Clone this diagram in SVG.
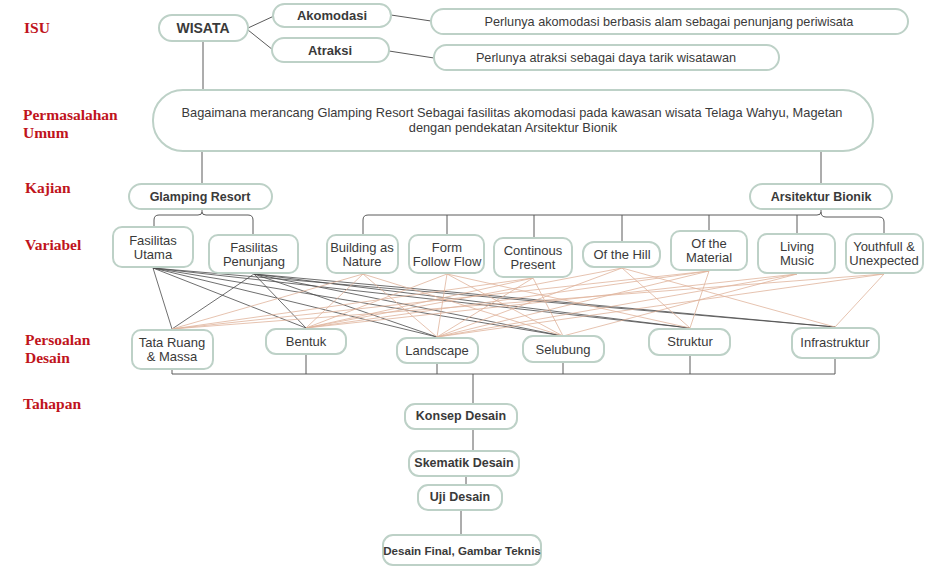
<svg xmlns="http://www.w3.org/2000/svg" width="933" height="571" viewBox="0 0 933 571">
<style>
.bg{fill:#ffffff}
.lbl{font-family:"Liberation Serif","Times New Roman",serif;font-weight:bold;font-size:15.5px;fill:#c0141c}
.n rect{fill:#ffffff;stroke:#bdd1c7;stroke-width:2}
.t{font-family:"Liberation Sans",Arial,sans-serif;font-size:12.5px;fill:#3a3a3a;text-anchor:middle;dominant-baseline:central}
.b{font-weight:bold}
.c{fill:none;stroke:#5a5a5a;stroke-width:1}
.dk{stroke:#4a4a4a;stroke-width:0.8;fill:none}
.or{stroke:#e0b49c;stroke-width:0.8;fill:none}
</style>
<rect class="bg" x="0" y="0" width="933" height="571"/>

<g id="labels">
<text class="lbl" x="24" y="33">ISU</text>
<text class="lbl" x="23" y="120">Permasalahan</text>
<text class="lbl" x="23" y="138">Umum</text>
<text class="lbl" x="25" y="193">Kajian</text>
<text class="lbl" x="25" y="250">Variabel</text>
<text class="lbl" x="25" y="345">Persoalan</text>
<text class="lbl" x="25" y="363">Desain</text>
<text class="lbl" x="23" y="409">Tahapan</text>
</g>

<g id="connectors">
<path class="c" d="M248,28 L274,16 M248,30 L273,50 M391,15 L431,21 M389,51 L434,58"/>
<path class="c" d="M203,41 V90"/>
<path class="c" d="M202,151 V184 M821,151 V185"/>
<path class="c" d="M202,209 V212 Q202,215 198,215 H159 Q154,215 154,220 V227 M202,212 Q202,215 206,215 H248 Q253,215 253,220 V235"/>
<path class="c" d="M821,209 V212 Q821,215 817,215 H368 Q363,215 363,220 V235 M821,212 Q821,217 826,217 H879 Q884,217 884,222 V234 M447,215 V235 M534,215 V238 M622,215 V242 M709,215 V231 M797,215 V234"/>
<path class="c" d="M172,369 V374 M306,354 V374 M437,363 V374 M563,362 V374 M690,355 V374 M835,358 V374 M172,374 H835 M473,374 V404"/>
<path class="c" d="M473,429 V451 M466,476 V485 M461,510 V535"/>
<g id="cross-dark">
<path class="dk" d="M153,268 L172,329 M153,268 L306,328 M153,268 L437,337 M153,268 L563,336 M153,268 L690,328 M153,268 L835,327"/>
<path class="dk" d="M254,274 L172,329 M254,274 L306,328 M254,274 L437,337 M254,274 L563,336 M254,274 L690,328 M254,274 L835,327"/>
</g>
<g id="cross-orange">
<path class="or" d="M363,274 L172,329 M363,274 L306,328 M363,274 L437,337 M363,274 L563,336"/>
<path class="or" d="M447,274 L306,328 M447,274 L437,337 M447,274 L563,336 M447,274 L690,328"/>
<path class="or" d="M533,278 L172,329 M533,278 L306,328 M533,278 L437,337 M533,278 L563,336"/>
<path class="or" d="M622,268 L306,328 M622,268 L437,337 M622,268 L690,328 M622,268 L835,327"/>
<path class="or" d="M709,271 L172,329 M709,271 L306,328 M709,271 L437,337 M709,271 L690,328"/>
<path class="or" d="M797,274 L306,328 M797,274 L437,337 M797,274 L563,336"/>
<path class="or" d="M884,274 L172,329 M884,274 L437,337 M884,274 L835,327"/>
</g>
</g>

<g id="wisata" class="n"><rect x="159" y="15" width="89" height="26" rx="13"/><text class="t b" x="203" y="28" style="font-size:14px">WISATA</text></g>
<g id="akomodasi" class="n"><rect x="273" y="4" width="118" height="23" rx="11.5"/><text class="t b" x="332" y="15.5" style="font-size:13px">Akomodasi</text></g>
<g id="atraksi" class="n"><rect x="272" y="38" width="117" height="24" rx="12"/><text class="t b" x="330" y="50" style="font-size:13px">Atraksi</text></g>
<g id="isu-akomodasi" class="n"><rect x="431" y="9" width="477" height="25" rx="12.5"/><text class="t" x="669" y="21.5" style="font-size:12.7px">Perlunya akomodasi berbasis alam sebagai penunjang periwisata</text></g>
<g id="isu-atraksi" class="n"><rect x="434" y="45" width="345" height="25" rx="12.5"/><text class="t" x="606" y="57.5" style="font-size:12.7px">Perlunya atraksi sebagai daya tarik wisatawan</text></g>

<g id="permasalahan" class="n"><rect x="153" y="90" width="720" height="61" rx="30"/>
<text class="t" x="512" y="112" style="font-size:12.8px">Bagaimana merancang Glamping Resort Sebagai fasilitas akomodasi pada kawasan wisata Telaga Wahyu, Magetan</text>
<text class="t" x="513" y="127" style="font-size:12.8px">dengan pendekatan Arsitektur Bionik</text></g>

<g id="glamping" class="n"><rect x="129" y="184" width="143" height="25" rx="12.5"/><text class="t b" x="200" y="196.5">Glamping Resort</text></g>
<g id="bionik" class="n"><rect x="750" y="184" width="142" height="25" rx="12.5"/><text class="t b" x="821" y="196.5">Arsitektur Bionik</text></g>

<g id="fas-utama" class="n"><rect x="113" y="227" width="80" height="40" rx="9"/><text class="t" x="153" y="240" style="font-size:13px">Fasilitas</text><text class="t" x="153" y="254" style="font-size:13px">Utama</text></g>
<g id="fas-penunjang" class="n"><rect x="209" y="235" width="89" height="38" rx="9"/><text class="t" x="254" y="247" style="font-size:13px">Fasilitas</text><text class="t" x="254" y="261" style="font-size:13px">Penunjang</text></g>
<g id="building" class="n"><rect x="327" y="235" width="71" height="38" rx="9"/><text class="t" x="362" y="247" style="font-size:13px">Building as</text><text class="t" x="362" y="261" style="font-size:13px">Nature</text></g>
<g id="form" class="n"><rect x="409" y="235" width="75" height="38" rx="9"/><text class="t" x="447" y="247" style="font-size:13px">Form</text><text class="t" x="447" y="261" style="font-size:13px">Follow Flow</text></g>
<g id="continous" class="n"><rect x="494" y="238" width="78" height="39" rx="9"/><text class="t" x="533" y="250" style="font-size:13px">Continous</text><text class="t" x="533" y="264" style="font-size:13px">Present</text></g>
<g id="hill" class="n"><rect x="583" y="242" width="77" height="25" rx="11"/><text class="t" x="622" y="254" style="font-size:13px">Of the Hill</text></g>
<g id="material" class="n"><rect x="671" y="231" width="76" height="39" rx="9"/><text class="t" x="709" y="243" style="font-size:13px">Of the</text><text class="t" x="709" y="257" style="font-size:13px">Material</text></g>
<g id="living" class="n"><rect x="758" y="234" width="77" height="39" rx="9"/><text class="t" x="797" y="246" style="font-size:13px">Living</text><text class="t" x="797" y="260" style="font-size:13px">Music</text></g>
<g id="youthfull" class="n"><rect x="846" y="234" width="77" height="39" rx="9"/><text class="t" x="884" y="246" style="font-size:13px">Youthfull &amp;</text><text class="t" x="884" y="260" style="font-size:13px">Unexpected</text></g>

<g id="tata" class="n"><rect x="132" y="330" width="81" height="39" rx="9"/><text class="t" x="172" y="342" style="font-size:13px">Tata Ruang</text><text class="t" x="172" y="356" style="font-size:13px">&amp; Massa</text></g>
<g id="bentuk" class="n"><rect x="266" y="329" width="80" height="25" rx="10"/><text class="t" x="306" y="341" style="font-size:13px">Bentuk</text></g>
<g id="landscape" class="n"><rect x="397" y="338" width="81" height="25" rx="10"/><text class="t" x="437" y="350" style="font-size:13px">Landscape</text></g>
<g id="selubung" class="n"><rect x="523" y="336" width="81" height="26" rx="10"/><text class="t" x="563" y="349" style="font-size:13px">Selubung</text></g>
<g id="struktur" class="n"><rect x="649" y="329" width="81" height="26" rx="10"/><text class="t" x="690" y="341" style="font-size:13px">Struktur</text></g>
<g id="infrastruktur" class="n"><rect x="792" y="328" width="87" height="30" rx="10"/><text class="t" x="835" y="342" style="font-size:13px">Infrastruktur</text></g>

<g id="konsep" class="n"><rect x="405" y="404" width="112" height="25" rx="10"/><text class="t b" x="461" y="416">Konsep Desain</text></g>
<g id="skematik" class="n"><rect x="409" y="451" width="110" height="25" rx="10"/><text class="t b" x="464" y="463">Skematik Desain</text></g>
<g id="uji" class="n"><rect x="418" y="485" width="84" height="25" rx="10"/><text class="t b" x="460" y="497">Uji Desain</text></g>
<g id="final" class="n"><rect x="383" y="535" width="158" height="30" rx="10"/><text class="t b" x="462" y="550" style="font-size:11.6px">Desain Final, Gambar Teknis</text></g>
</svg>
